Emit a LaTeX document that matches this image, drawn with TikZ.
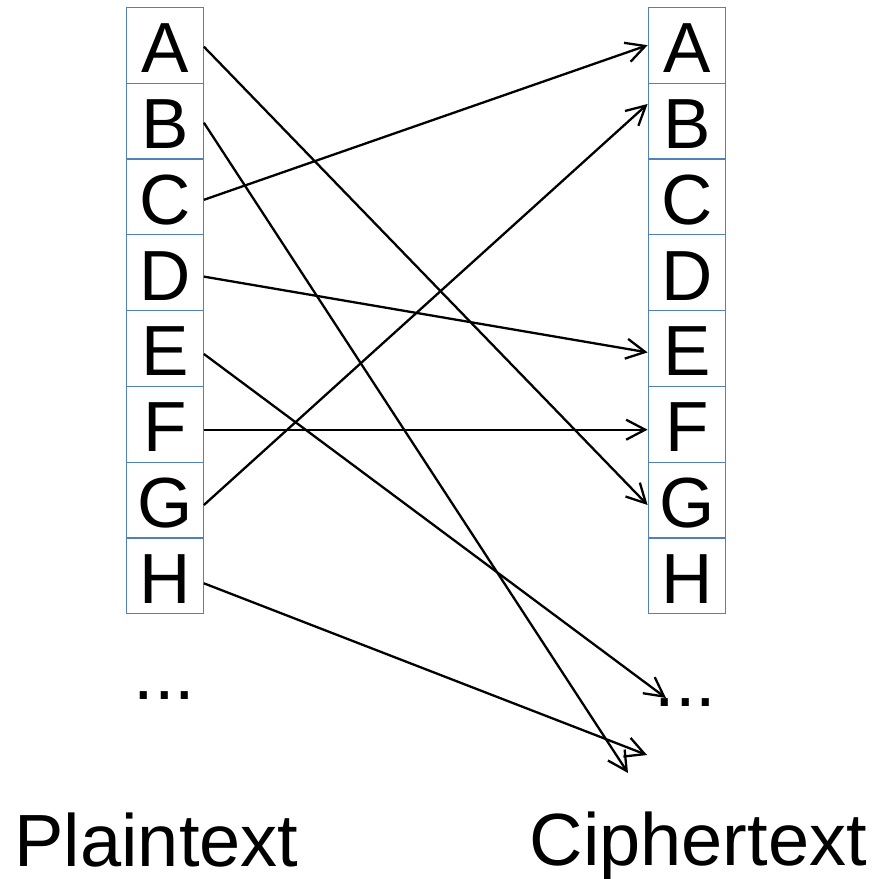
\documentclass[tikz,border=0pt]{standalone}
\usepackage{fontspec}
\setmainfont{Liberation Sans}
\usetikzlibrary{arrows.meta}
\definecolor{cellblue}{RGB}{79,129,189}
\begin{document}
\begin{tikzpicture}[x=1pt,y=-1pt,
  cell/.style={draw=cellblue, line width=1.2pt, minimum width=77pt,
    minimum height=75.8pt, inner sep=0pt, text height=55pt, text depth=0pt,
    font=\fontsize{71}{71}\selectfont},
  maplink/.style={draw=black, line width=2.3pt,
    -{Straight Barb[length=19pt,width=20pt]}},
  caption/.style={font=\fontsize{74}{74}\selectfont, anchor=base west,
    inner sep=0pt}]
\useasboundingbox (0,0) rectangle (876,879);

% the two alphabets
\foreach \ch [count=\i] in {A,B,C,D,E,F,G,H} {
  \node[cell] (L\i) at (164.8, {7.3+75.8*(\i-0.5)}) {\ch};
  \node[cell] (R\i) at (686.7, {7.3+75.8*(\i-0.5)}) {\ch};
}

% continuation marks and captions
\node[caption] (ldots) at (133.4,699) {...};
\node[caption] (rdots) at (654.4,706) {...};
\node[caption] (plain) at (14.4,866) {Plaintext};
\node[caption] (cipher) at (529.4,865) {Ciphertext};

% targets beyond the listed letters
\coordinate (outB) at (628,773);
\coordinate (outE) at (666,698);
\coordinate (outH) at (647,755);

% substitution mapping
\draw[maplink] ([yshift=-1.5pt]L1.east) -- ([yshift=-5pt]R7.west);
\draw[maplink] ([yshift=-1.7pt]L2.east) -- (outB);
\draw[maplink] ([yshift=-3pt]L3.east) -- (R1.west);
\draw[maplink] ([yshift=-4pt]L4.east) -- ([yshift=-4pt]R5.west);
\draw[maplink] ([yshift=-5.6pt]L5.east) -- (outE);
\draw[maplink] ([yshift=-5.5pt]L6.east) -- ([yshift=-5.5pt]R6.west);
\draw[maplink] ([yshift=-5pt]L7.east) -- ([yshift=17pt]R2.west);
\draw[maplink] ([yshift=-7.5pt]L8.east) -- (outH);
\end{tikzpicture}
\end{document}
